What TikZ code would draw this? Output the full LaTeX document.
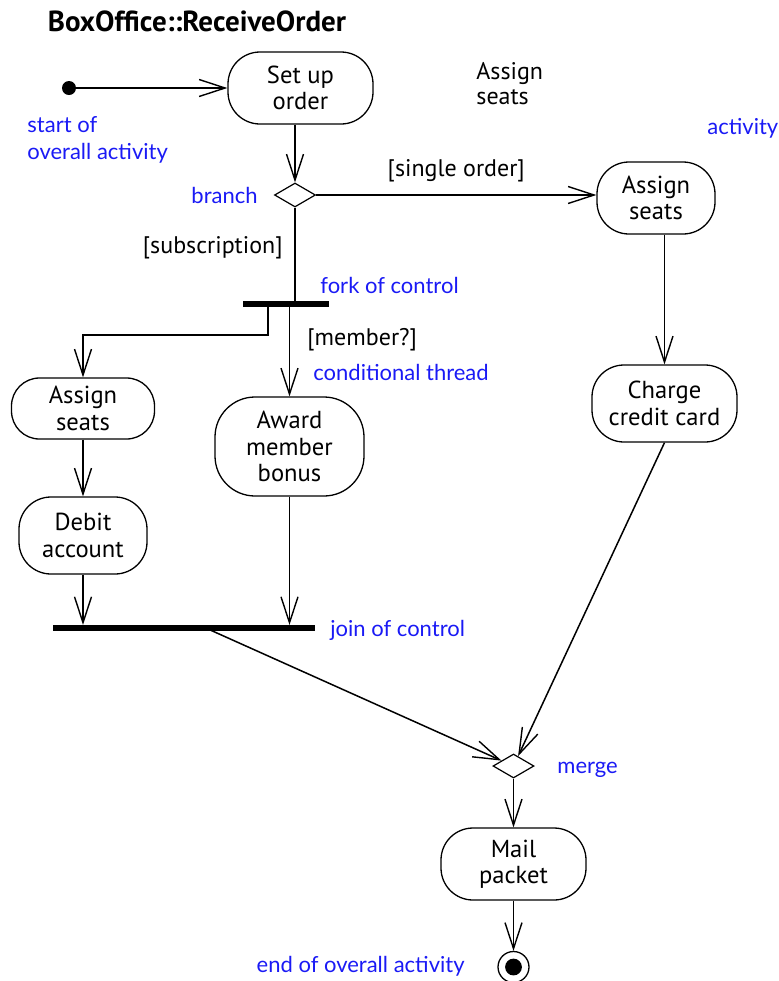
\documentclass[tikz,border=0pt]{standalone}
\usepackage{fontspec}
\setmainfont{PT Sans}
\newfontfamily\notefont{Lato}
\usetikzlibrary{arrows.meta,shapes.geometric}
\definecolor{noteblue}{HTML}{1A1AF5}
\tikzset{
  actstate/.style={rectangle,draw,line width=0.65pt,rounded corners=16pt,align=center,inner sep=0,
                   font=\fontsize{12.3}{13.2}\selectfont},
  decision/.style={diamond,draw,line width=0.6pt,minimum width=20.5pt,minimum height=12pt,inner sep=0},
  syncbar/.style={rectangle,fill=black,minimum height=2.6pt,inner sep=0},
  startdot/.style={circle,fill=black,minimum size=7pt,inner sep=0},
  % final state: a ring with a black dot inside
  enddot/.style={circle,draw,line width=0.65pt,minimum size=15.5pt,inner sep=0,
                 path picture={\fill (path picture bounding box.center) circle (4.2pt);}},
  flow/.style={-{Straight Barb[length=13pt,width=8.5pt,line width=0.7pt]},line width=0.75pt},
  plain/.style={line width=0.75pt},
  note/.style={text=noteblue,font=\notefont\fontsize{11}{13.5}\selectfont,align=left,inner sep=0},
  guard/.style={font=\fontsize{12}{12.5}\selectfont,align=left,inner sep=0},
}
\begin{document}
\begin{tikzpicture}[x=0.5pt,y=-0.5pt]
  \useasboundingbox (0,0) rectangle (778,981);
  \node[font=\bfseries\fontsize{14.5}{16}\selectfont] (title) at (197,21) {BoxOffice::ReceiveOrder};
  % top row
  \node[startdot] (start) at (69,88) {};
  \node[actstate,minimum width=72.5pt,minimum height=36pt] (setup) at (300.5,88) {Set up\\order};
  \node[guard,anchor=west] (seatstxt) at (476,84) {Assign\\seats};
  \node[note,anchor=west] (startlbl) at (27,140) {start of\\overall activity};
  \node[note,anchor=west] (actlbl) at (707,128) {activity};
  \draw[flow] (start) -- (setup.west);
  % branch
  \node[decision] (branch) at (295,195) {};
  \node[note,anchor=east] (branchlbl) at (258,195) {branch};
  \draw[flow] (branch.north |- setup.south) -- (branch.north);
  \node[actstate,minimum width=59pt,minimum height=36pt] (seatsR) at (656,198) {Assign\\seats};
  \draw[flow] (branch.east) -- (branch.east -| seatsR.west)
    node[guard,midway,above=6pt] {[single order]};
  \node[actstate,minimum width=72.5pt,minimum height=38.5pt] (charge) at (664.5,403.5) {Charge\\credit card};
  \draw[flow] (seatsR.south -| charge.north) -- (charge.north);
  % fork of control
  \node[syncbar,minimum width=43pt] (fork) at (286,304) {};
  \node[note,anchor=west] (forklbl) at (320,285) {fork of control};
  \node[guard,anchor=east] (sublbl) at (283,248) {[subscription]};
  \draw[plain] (branch.south) -- (branch.south |- fork.north);
  \coordinate (f1) at (268,304);
  \coordinate (f2) at (289.5,304);
  \node[actstate,rounded corners=14pt,minimum width=71.5pt,minimum height=30.5pt] (seatsL) at (83,408.5) {Assign\\seats};
  \node[actstate,rounded corners=20pt,minimum width=74.5pt,minimum height=49.5pt] (award) at (289.5,446.5) {Award\\member\\bonus};
  \draw[flow] (f1) -- ++(0,31) -| (seatsL.north);
  \draw[flow] (f2) -- (award.north);
  \node[guard,anchor=west] (memlbl) at (307,340) {[member?]};
  \node[note,anchor=west] (condlbl) at (313,372) {conditional thread};
  \node[actstate,minimum width=64pt,minimum height=38.5pt] (debit) at (83,535.5) {Debit\\account};
  \draw[flow] (seatsL.south) -- (debit.north);
  % join of control
  \node[syncbar,minimum width=131pt] (join) at (184,628) {};
  \node[note,anchor=west] (joinlbl) at (330,630) {join of control};
  \draw[flow] (debit.south) -- (debit.south |- join.north);
  \draw[flow] (award.south) -- (award.south |- join.north);
  % merge and the end
  \node[decision] (merge) at (513.5,766) {};
  \node[note,anchor=west] (mergelbl) at (557,770) {merge};
  \coordinate (j1) at (208,629);
  \draw[flow] (j1) -- (merge);
  \draw[flow] (charge.south) -- (merge);
  \node[actstate,minimum width=72.5pt,minimum height=36pt] (mail) at (513.5,864) {Mail\\packet};
  \draw[flow] (merge.south) -- (mail.north);
  \node[enddot] (stop) at (513.5,967) {};
  \node[note,anchor=east] (endlbl) at (465,966) {end of overall activity};
  \draw[flow] (mail.south) -- (stop.north);
\end{tikzpicture}
\end{document}
